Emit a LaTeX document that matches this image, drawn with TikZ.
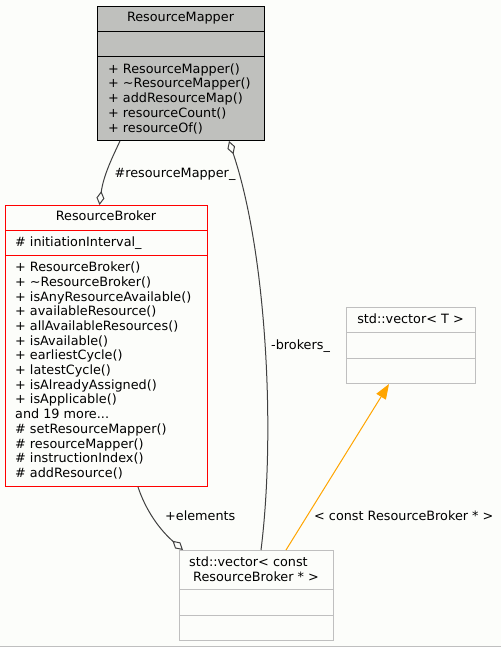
\documentclass[tikz,border=0pt]{standalone}
\usepackage{fontspec}
\setmainfont{DejaVu Sans}
\usepackage{tikz}
\usetikzlibrary{arrows.meta,calc}
\usetikzlibrary{positioning,shapes}
\definecolor{bgcol}{RGB}{252,253,250}
\definecolor{mappergray}{RGB}{191,192,189}
\definecolor{boxgray}{RGB}{191,191,191}
\definecolor{edgegray}{RGB}{64,64,64}
\definecolor{brokerred}{RGB}{255,0,0}
\definecolor{templorange}{RGB}{255,165,0}
\tikzstyle{classbox}=[draw, rectangle, inner sep=0pt, anchor=north west, line width=1pt]
\tikzstyle{uml}=[font=\fontsize{12.8}{14.7}\selectfont, inner sep=0pt]
\tikzstyle{members}=[uml, align=left, anchor=north west]
\tikzstyle{edge}=[edgegray, line width=1pt]
\tikzstyle{aggr}=[edge, -{Diamond[open,length=14pt,width=8pt]}]

\begin{document}
\begin{tikzpicture}[x=1pt,y=-1pt]
  \fill[bgcol] (0,0) rectangle (501,647);
  \useasboundingbox (0,0) rectangle (501,647);
  \draw[boxgray] (0,646) -- (501,646);

  % ResourceMapper
  \node[classbox, fill=mappergray, minimum width=167pt, minimum height=134pt]
  (mapper) at (97,6) {};
  \draw[line width=1pt] ($(mapper.north west)+(0,25.7)$) -- ($(mapper.north east)+(0,25.7)$);
  \draw[line width=1pt] ($(mapper.north west)+(0,50.7)$) -- ($(mapper.north east)+(0,50.7)$);
  \node[uml, anchor=base] (mappertitle) at (180.5,22) {ResourceMapper};
  \node[members] (mapperops) at (108,63.3) {+ ResourceMapper()\\
  + \textasciitilde ResourceMapper()\\ + addResourceMap()\\
  + resourceCount()\\ + resourceOf()};

  % ResourceBroker
  \node[classbox, draw=brokerred, minimum width=202pt, minimum height=281pt]
  (broker) at (5,205) {};
  \draw[brokerred, line width=1pt] ($(broker.north west)+(0,25)$) -- ($(broker.north east)+(0,25)$);
  \draw[brokerred, line width=1pt] ($(broker.north west)+(0,50)$) -- ($(broker.north east)+(0,50)$);
  \node[uml, anchor=base] (brokertitle) at (106,220.7) {ResourceBroker};
  \node[uml, anchor=base west] (brokerattr) at (15,246.4) {\# initiationInterval\_};
  \node[members] (brokerops) at (15,261.7) {+ ResourceBroker()\\
  + \textasciitilde ResourceBroker()\\ + isAnyResourceAvailable()\\
  + availableResource()\\ + allAvailableResources()\\ + isAvailable()\\
  + earliestCycle()\\ + latestCycle()\\ + isAlreadyAssigned()\\
  + isApplicable()\\ and 19 more...\\ \# setResourceMapper()\\
  \# resourceMapper()\\ \# instructionIndex()\\ \# addResource()};

  % std::vector< T >
  \node[classbox, draw=boxgray, minimum width=129pt, minimum height=76pt]
  (vect) at (346,307) {};
  \draw[boxgray, line width=1pt] ($(vect.north west)+(0,25.7)$) -- ($(vect.north east)+(0,25.7)$);
  \draw[boxgray, line width=1pt] ($(vect.north west)+(0,51)$) -- ($(vect.north east)+(0,51)$);
  \node[uml, anchor=base] (vecttitle) at (410.5,323) {std::vector< T >};

  % std::vector< const ResourceBroker * >
  \node[classbox, draw=boxgray, minimum width=154pt, minimum height=90pt]
  (vecb) at (179,550) {};
  \draw[boxgray, line width=1pt] ($(vecb.north west)+(0,39.3)$) -- ($(vecb.north east)+(0,39.3)$);
  \draw[boxgray, line width=1pt] ($(vecb.north west)+(0,65)$) -- ($(vecb.north east)+(0,65)$);
  \node[uml, anchor=base west] (vecbtitlea) at (189,566.4) {std::vector< const};
  \node[uml, anchor=base west] (vecbtitleb) at (193,581.4) {ResourceBroker * >};

  % attach points
  \coordinate (mapperS1) at ($(mapper.south west)+(23,0)$);
  \coordinate (mapperS2) at ($(mapper.south west)+(132,0)$);
  \coordinate (brokerN) at ($(broker.north west)+(94.5,0)$);
  \coordinate (brokerS) at ($(broker.south west)+(133,0)$);
  \coordinate (vecbN0) at ($(vecb.north west)+(4,0)$);
  \coordinate (vecbN1) at ($(vecb.north west)+(82,0)$);
  \coordinate (vecbN2) at ($(vecb.north west)+(107,0)$);
  \coordinate (vectS) at ($(vect.south west)+(43,0)$);

  % #resourceMapper_
  \draw[aggr] (mapperS1) .. controls +(-7,15) and +(4,-30) .. (brokerN);
  \node[uml, anchor=base] (lmapper) at (175,177) {\#resourceMapper\_};
  % -brokers_
  \draw[aggr] (vecbN1) .. controls +(15,-120) and +(37,110) .. (mapperS2);
  \node[uml, anchor=base west] (lbrokers) at (271,349) {-brokers\_};
  % +elements
  \draw[aggr] (brokerS) .. controls +(8,24) and +(-23,-20) .. (vecbN0);
  \node[uml, anchor=base west] (lelements) at (165,520.7) {+elements};
  % template instance
  \draw[templorange, line width=1pt, -{Triangle[length=15pt,width=11pt]}] (vecbN2) -- (vectS);
  \node[uml, anchor=base west] (ltempl) at (314,520.7) {< const ResourceBroker * >};
\end{tikzpicture}
\end{document}
